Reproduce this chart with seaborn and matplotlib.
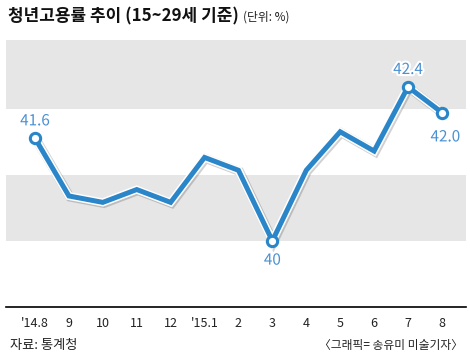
import matplotlib
matplotlib.use('Agg')
import matplotlib.pyplot as plt
import matplotlib.patheffects as pe
import pandas as pd
import seaborn as sns

meses = ["'14.8", '9', '10', '11', '12', "'15.1", '2', '3', '4', '5', '6', '7', '8']
taxa = [41.6, 40.7, 40.6, 40.8, 40.6, 41.3, 41.1, 40.0, 41.1, 41.7, 41.4, 42.4, 42.0]
rotulos = {0: '41.6', 7: '40', 11: '42.4', 12: '42.0'}
faixas = [(40.0, 41.03), (42.06, 43.2)]

dados = pd.DataFrame({'pos': range(len(meses)), 'taxa': taxa})

sns.set_style('white')
plt.rcParams['font.family'] = ['Noto Sans CJK KR', 'DejaVu Sans']

azul = '#2a86c8'
azul_txt = '#4a90d2'

fig = plt.figure(figsize=(4.7, 3.58), dpi=100)
ax = fig.add_axes([6 / 470, 51 / 358, 460 / 470, 267 / 358])

for ini, fim in faixas:
    ax.axhspan(ini, fim, color='#e6e6e6', lw=0, zorder=0)

sns.lineplot(data=dados, x='pos', y='taxa', ax=ax, color=azul, lw=3.6,
             solid_joinstyle='miter', zorder=3,
             path_effects=[pe.SimpleLineShadow(offset=(0.8, -0.8), shadow_color='black', alpha=0.18, linewidth=6.5),
                           pe.Stroke(linewidth=5.8, foreground='white'), pe.Normal()])

idx = list(rotulos.keys())
ax.scatter(idx, [taxa[i] for i in idx], s=55, facecolor='white', edgecolor=azul, linewidth=2.2, zorder=4)

desloc = {0: (0, 0.27), 7: (0, -0.3), 11: (0, 0.27), 12: (0.1, -0.38)}
for i, txt in rotulos.items():
    dx, dy = desloc[i]
    ax.text(i + dx, taxa[i] + dy, txt, color=azul_txt, fontsize=11, ha='center', va='center',
            zorder=5, path_effects=[pe.withStroke(linewidth=3, foreground='white')])

ax.set_xlim(-0.855, 12.71)
ax.set_ylim(38.97, 43.13)
ax.set_xticks(range(len(meses)))
ax.set_xticklabels(meses, fontsize=9, color='#222222')
ax.set_yticks([])
ax.set_xlabel('')
ax.set_ylabel('')
ax.tick_params(axis='x', length=0, pad=7)
for s in ['top', 'left', 'right']:
    ax.spines[s].set_visible(False)
ax.spines['bottom'].set_color('black')
ax.spines['bottom'].set_linewidth(1.2)

fig.text(8 / 470, 1 - 16 / 358, '청년고용률 추이 (15~29세 기준)', fontsize=12.2, fontweight='bold',
         va='center', ha='left', color='#111111')
fig.text(243 / 470, 1 - 17 / 358, '(단위: %)', fontsize=8.5, va='center', ha='left', color='#222222')
fig.text(10 / 470, 1 - 345 / 358, '자료: 통계청', fontsize=9.5, va='center', ha='left', color='#222222')
fig.text(463 / 470, 1 - 345 / 358, '〈그래픽= 송유미 미술기자〉', fontsize=8.5, va='center', ha='right', color='#222222')

fig.savefig('out.png', dpi=100)
